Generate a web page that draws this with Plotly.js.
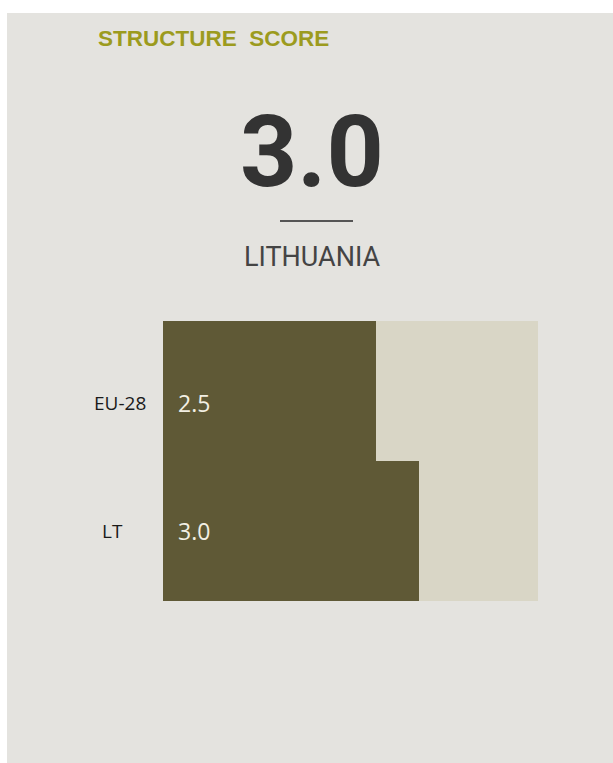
<!DOCTYPE html>
<html>
<head>
<meta charset="utf-8">
<script src="https://cdn.plot.ly/plotly-3.0.1.min.js"></script>
<style>
  html, body { margin: 0; padding: 0; background: #ffffff; }
  #chart { position: absolute; left: 7px; top: 13px; width: 606px; height: 750px; }
</style>
</head>
<body>
<div id="chart"></div>
<script>
// ---- data ----
const categories = ['EU-28', 'LT'];
const scores = [2.5, 3.0];
const maxScore = [4.4, 4.4];
const headline = '3.0';
const country = 'LITHUANIA';
const chartTitle = 'STRUCTURE&nbsp; SCORE';

// ---- style ----
const dark = '#5f5936';
const light = '#d9d6c6';
const bg = '#e4e3df';
const PW = 375, PH = 280, L = 156, T = 308;   // plot geometry (px, in div)
const px = x => (x - 163) / PW;                 // page px -> paper x
const py = y => (601 - y) / PH;                 // page px -> paper y

const traces = [
  { type: 'bar', orientation: 'h', y: categories, x: maxScore,
    marker: { color: light }, hoverinfo: 'skip', showlegend: false },
  { type: 'bar', orientation: 'h', y: categories, x: scores,
    marker: { color: dark }, hoverinfo: 'skip', showlegend: false }
];

const labelCenters = [120, 112];
const labelYShift = [-12, 0];
const annotations = [
  { text: headline, xref: 'paper', yref: 'paper', x: px(312), y: py(152),
    xanchor: 'center', yanchor: 'middle', showarrow: false,
    font: { family: 'Roboto, "Liberation Sans", Arial, sans-serif', size: 100, color: '#333333', weight: 700 } },
  { text: country, xref: 'paper', yref: 'paper', x: px(312.5), y: py(257),
    xanchor: 'center', yanchor: 'middle', showarrow: false,
    font: { family: 'Roboto, "Liberation Sans", Arial, sans-serif', size: 27, color: '#444444' } }
];
categories.forEach((c, i) => {
  annotations.push({ text: c, xref: 'paper', yref: 'y', x: px(labelCenters[i]), y: c,
    xanchor: 'center', yanchor: 'middle', yshift: labelYShift[i], showarrow: false,
    font: { family: '"Open Sans", "Liberation Sans", sans-serif', size: 19, color: '#1a1a1a' } });
  annotations.push({ text: scores[i].toFixed(1), xref: 'x', yref: 'y', x: 0, y: c,
    xanchor: 'left', yanchor: 'middle', xshift: 13, yshift: labelYShift[i], showarrow: false,
    font: { family: '"Open Sans", "Liberation Sans", sans-serif', size: 23, color: '#f2efe4' } });
});

const layout = {
  width: 606, height: 750,
  margin: { l: L, r: 75, t: T, b: 162, pad: 0 },
  paper_bgcolor: bg, plot_bgcolor: bg,
  barmode: 'overlay', bargap: 0,
  title: { text: chartTitle, xref: 'container', yref: 'container',
    x: (98 - 7) / 606, xanchor: 'left', y: 1 - (38 - 13) / 750, yanchor: 'middle',
    font: { family: '"Liberation Sans", Arial, sans-serif', size: 22.5, color: '#9c9b1e', weight: 700 } },
  xaxis: { range: [0, 4.4], visible: false, fixedrange: true },
  yaxis: { categoryorder: 'array', categoryarray: categories.slice().reverse(),
    showticklabels: false, showgrid: false, zeroline: false, showline: false, ticks: '' },
  shapes: [
    { type: 'line', xref: 'paper', yref: 'paper', x0: px(280), x1: px(353), y0: py(221), y1: py(221),
      line: { color: '#555555', width: 2 } }
  ],
  annotations: annotations
};

Plotly.newPlot('chart', traces, layout, { displayModeBar: false, staticPlot: true });
</script>
</body>
</html>
